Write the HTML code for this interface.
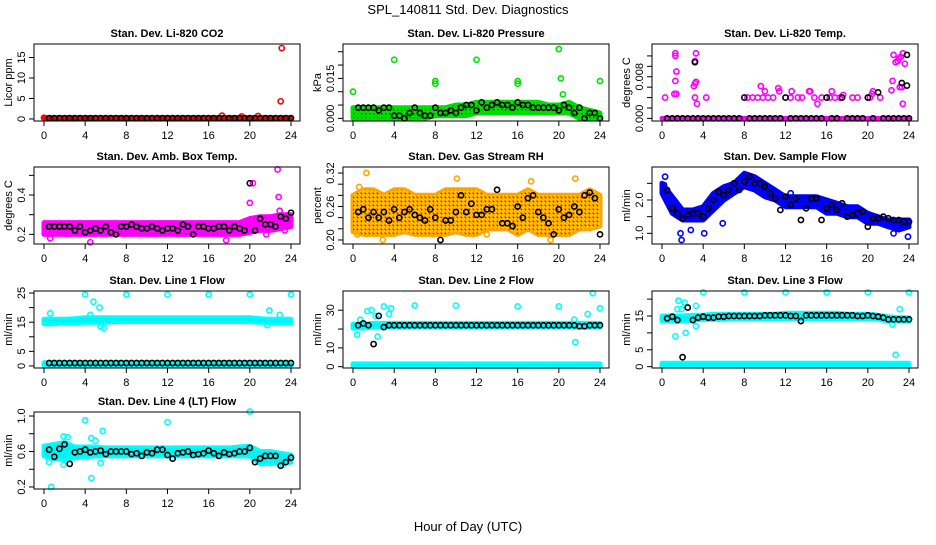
<!DOCTYPE html>
<html><head><meta charset="utf-8"><style>
html,body{margin:0;padding:0;background:#fff;}
svg text{font-family:"Liberation Sans",Arial,sans-serif;}
</style></head><body>
<svg id="chart" width="936" height="540" viewBox="0 0 936 540" xmlns="http://www.w3.org/2000/svg">
<defs>
<pattern id="pat-green" width="4" height="4" patternUnits="userSpaceOnUse"><rect width="4" height="4" fill="#00dd00"/><rect x="1" y="1" width="1.4" height="1.4" fill="#004000"/></pattern>
<pattern id="pat-magenta" width="4" height="4" patternUnits="userSpaceOnUse"><rect width="4" height="4" fill="#ff00ff"/><rect x="1" y="1" width="1.2" height="1.2" fill="#a000a0"/></pattern>
<pattern id="pat-orange" width="4" height="4" patternUnits="userSpaceOnUse"><rect width="4" height="4" fill="#ffc000"/><rect x="0" y="0" width="2" height="2" fill="#ff8000"/><rect x="1" y="1" width="1.3" height="1.3" fill="#e00000"/></pattern>
<pattern id="pat-blue" width="4" height="4" patternUnits="userSpaceOnUse"><rect width="4" height="4" fill="#0000ff"/><rect x="1" y="1" width="1.3" height="1.3" fill="#000080"/></pattern>
<pattern id="pat-red" width="4" height="4" patternUnits="userSpaceOnUse"><rect width="4" height="4" fill="#ff0000"/><rect x="1" y="1" width="1.5" height="1.5" fill="#000"/></pattern>
</defs>
<rect width="936" height="540" fill="#fff"/>
<text x="468" y="14" font-size="13" text-anchor="middle">SPL_140811  Std. Dev. Diagnostics</text>
<text x="468" y="531" font-size="13" text-anchor="middle">Hour of Day (UTC)</text>
<g id="panels"></g>
</svg>
<script>
const HOURS = [0,1,2,3,4,5,6,7,8,9,10,11,12,13,14,15,16,17,18,19,20,21,22,23,24];
const HALF = [0,0.5,1,1.5,2,2.5,3,3.5,4,4.5,5,5.5,6,6.5,7,7.5,8,8.5,9,9.5,10,10.5,11,11.5,12,12.5,13,13.5,14,14.5,15,15.5,16,16.5,17,17.5,18,18.5,19,19.5,20,20.5,21,21.5,22,22.5,23,23.5,24];
const X_TICKS = [0,4,8,12,16,20,24];

// Panel 1: Li-820 CO2
const co2Lo = [0,0,0,0,0,0,0,0,0,0,0,0,0,0,0,0,0,0,0,0,0,0,0,0,0];
const co2Hi = [0.3,0.3,0.3,0.3,0.3,0.3,0.3,0.3,0.3,0.3,0.3,0.3,0.3,0.3,0.3,0.3,0.3,0.3,0.3,0.3,0.3,0.3,0.3,0.3,0.3];
const co2Blk = [null,0.2,0.2,0.2,0.2,0.2,0.2,0.2,0.2,0.2,0.2,0.2,0.2,0.2,0.2,0.2,0.2,0.2,0.2,0.2,0.2,0.2,0.2,0.2,0.2,0.2,0.2,0.2,0.2,0.2,0.2,0.2,0.2,0.2,0.2,0.2,0.2,0.2,0.2,0.2,0.2,0.2,0.2,0.2,0.2,0.2,0.2,0.2,0.2];
const co2Out = [[0,0.3],[17.3,0.8],[23.0,4.3],[23.1,17.3],[19.2,0.6],[20.8,0.7]];

// Panel 2: Li-820 Pressure
const presLo = [0,0,0,0,0,0,0,0,0.001,0.001,0.001,0.001,0.002,0.002,0.002,0.002,0.002,0.002,0.002,0.002,0.002,0.002,0,0,0];
const presHi = [0.004,0.004,0.004,0.004,0.004,0.004,0.004,0.004,0.004,0.004,0.005,0.005,0.006,0.006,0.006,0.006,0.006,0.006,0.006,0.005,0.005,0.006,0.004,0.003,0.002];
const presBlk = [null,0.004,0.004,0.004,0.004,0.003,0.004,0.004,0.001,0.001,0.0,0.002,0.004,0.002,0.001,0.001,0.004,0.002,0.002,0.003,0.002,0.004,0.005,0.005,0.003,0.006,0.004,0.005,0.006,0.005,0.005,0.004,0.006,0.005,0.005,0.004,0.004,0.004,0.004,0.004,0.003,0.005,0.004,0.002,0.004,0.0,0.002,0.002,0.0];
const presOut = [[0,0.010],[4,0.022],[8,0.014],[8,0.013],[12,0.022],[16,0.014],[16,0.013],[20,0.026],[20.2,0.015],[20.4,0.009],[24,0.014],[0.2,0.002],[23.6,0.002]];

// Panel 3: Li-820 Temp
const tmpLo = [0,0,0,0,0,0,0,0,0,0,0,0,0,0,0,0,0,0,0,0,0,0,0,0,0];
const tmpHi = [0,0,0,0,0,0,0,0,0,0,0,0,0,0,0,0,0,0,0,0,0,0,0,0,0];
const tmpBlk = [null,0,0,0,0,0,0,0,0,0,0,0,0,0,0,0,0.004,0,0,0,0,0,0,0,0.004,0,0,0,0,0,0,0,0.004,0,0,0.004,0,0,0,0,0.004,0,0.005,0,0,0,0,0,0];
const tmpOut = [[0.3,0.004],[1.3,0.0125],[1.3,0.012],[1.4,0.009],[1.3,0.0072],[1.2,0.0047],[1.4,0.0047],[3.1,0.0062],[3.2,0.0067],[3.3,0.0070],[3.2,0.011],[3.3,0.0125],[3.2,0.004],[3.4,0.0028],[4.3,0.004],[8.3,0.004],[8.8,0.004],[9.3,0.004],[9.6,0.0062],[9.8,0.004],[10,0.0052],[10.3,0.004],[10.8,0.004],[11.3,0.0058],[11.4,0.0052],[12.5,0.004],[12.6,0.0052],[13.2,0.004],[13.6,0.004],[14.3,0.0052],[14.4,0.0052],[14.8,0.004],[15.1,0.0028],[15.5,0.004],[16.3,0.004],[16.5,0.0052],[16.8,0.004],[17.3,0.004],[17.6,0.0045],[18.5,0.004],[19,0.004],[20.2,0.004],[20.4,0.0047],[20.5,0.0052],[21.2,0.004],[22.3,0.0054],[22.4,0.0072],[22.5,0.0122],[22.7,0.0108],[22.9,0.011],[23,0.0115],[23.2,0.0118],[23.4,0.0125],[23.6,0.0105],[23.1,0.006],[23.3,0.006],[23.4,0.0028]];
const tmpBlkOut = [[3.2,0.0108],[23.3,0.0068],[23.8,0.0122],[23.8,0.0063]];

// Panel 4: Amb. Box Temp
const ambLo = [0.2,0.2,0.2,0.2,0.2,0.2,0.2,0.2,0.2,0.2,0.2,0.2,0.2,0.2,0.2,0.2,0.2,0.2,0.2,0.2,0.21,0.22,0.22,0.23,0.24];
const ambHi = [0.26,0.26,0.26,0.26,0.26,0.26,0.26,0.26,0.26,0.26,0.26,0.26,0.26,0.26,0.26,0.26,0.26,0.26,0.26,0.26,0.28,0.29,0.29,0.30,0.30];
const ambBlk = [null,0.24,0.24,0.24,0.24,0.24,0.22,0.24,0.21,0.22,0.23,0.22,0.24,0.21,0.2,0.24,0.24,0.25,0.24,0.23,0.23,0.24,0.23,0.22,0.23,0.23,0.22,0.25,0.24,0.2,0.24,0.24,0.23,0.23,0.24,0.24,0.22,0.24,0.23,0.22,0.46,0.22,0.28,0.25,0.25,0.24,0.29,0.28,0.31];
const ambOut = [[0.6,0.18],[4.5,0.16],[17.7,0.17],[20,0.36],[20.3,0.46],[22.7,0.53],[22.8,0.39],[22.9,0.32],[21.6,0.2],[23.4,0.22]];

// Panel 5: Gas Stream RH
const rhLo = [0.215,0.21,0.21,0.21,0.21,0.215,0.21,0.21,0.21,0.21,0.215,0.21,0.21,0.22,0.22,0.22,0.21,0.22,0.21,0.21,0.21,0.21,0.22,0.22,0.225];
const rhHi = [0.28,0.29,0.29,0.28,0.29,0.29,0.28,0.28,0.28,0.29,0.29,0.29,0.29,0.28,0.28,0.28,0.28,0.29,0.28,0.28,0.28,0.28,0.28,0.29,0.28];
const rhBlk = [null,0.25,0.255,0.24,0.25,0.24,0.25,0.235,0.255,0.24,0.25,0.255,0.245,0.24,0.235,0.255,0.24,0.20,0.235,0.235,0.25,0.28,0.25,0.265,0.245,0.245,0.255,0.255,0.29,0.23,0.23,0.225,0.26,0.24,0.275,0.28,0.25,0.24,0.23,0.21,0.255,0.24,0.245,0.26,0.25,0.28,0.285,0.275,0.21];
const rhOut = [[1.3,0.32],[10.1,0.31],[17.3,0.305],[21.6,0.31],[2.9,0.20],[19.2,0.20],[0.4,0.21],[13,0.21],[0.6,0.295],[7.8,0.21]];

// Panel 6: Sample Flow
const sfLo = [2.2,1.6,1.4,1.4,1.4,1.7,2.0,2.2,2.4,2.3,2.1,2.0,1.8,1.8,1.8,1.8,1.6,1.6,1.5,1.5,1.3,1.3,1.2,1.1,1.2];
const sfHi = [2.5,2.1,1.7,1.7,1.8,2.2,2.4,2.5,2.8,2.7,2.5,2.3,2.1,2.1,2.1,2.1,2.0,1.9,1.8,1.8,1.6,1.5,1.4,1.4,1.4];
const sfBlk = [null,2.3,1.75,1.6,1.45,1.55,1.6,1.6,1.5,1.75,2.0,2.25,2.15,2.3,2.5,2.3,2.55,2.7,2.5,2.5,2.4,2.2,2.05,1.7,2.1,1.85,2.05,1.4,1.75,2.05,2.05,1.4,1.75,1.85,1.7,1.9,1.5,1.55,1.6,1.65,1.2,1.45,1.45,1.5,1.45,1.4,1.4,1.35,1.35];
const sfOut = [[0.3,2.7],[1.8,1.0],[1.9,0.8],[2.8,1.1],[4.1,1.0],[5.9,1.3],[22.5,1.0],[23.9,0.9],[12.5,2.2],[0.2,2.45]];

// Panel 7: Line 1 Flow
const l1Lo = [14.5,14.5,14.8,14.8,15,15,15,15.2,15.2,15.2,15.2,15.2,15.2,15.2,15.2,15.2,15.2,15.2,15.2,15.2,15.2,15,15,14.8,14.8];
const l1Hi = [16,16,16,16.2,16.5,16.5,16.5,16.5,16.5,16.5,16.5,16.5,16.5,16.5,16.5,16.5,16.5,16.5,16.5,16.5,16.5,16.2,16,16,16];
const l1Lo2 = [0.2,0.2,0.2,0.2,0.2,0.2,0.2,0.2,0.2,0.2,0.2,0.2,0.2,0.2,0.2,0.2,0.2,0.2,0.2,0.2,0.2,0.2,0.2,0.2,0.2];
const l1Hi2 = [1.1,1.1,1.1,1.1,1.1,1.1,1.1,1.1,1.1,1.1,1.1,1.1,1.1,1.1,1.1,1.1,1.1,1.1,1.1,1.1,1.1,1.1,1.1,1.1,1.1];
const l1Blk = [null,1,1,1,1,1,1,1,1,1,1,1,1,1,1,1,1,1,1,1,1,1,1,1,1,1,1,1,1,1,1,1,1,1,1,1,1,1,1,1,1,1,1,1,1,1,1,1,1];
const l1Out = [[0.6,18],[4,24.5],[4.8,22],[5.4,20],[5.5,13.5],[5.8,13],[8,24.5],[12,24.5],[16,24.5],[20,24.5],[21.9,19],[21.7,14],[22.9,17.5],[24,24.5],[4.5,17.5],[0.1,15.5]];

// Panel 8: Line 2 Flow
const l2Lo = [20.5,20.5,21,21,21,21,21,21,21,21,21,21,21,21,21,21,21,21,21,21,21,21,21,21,21];
const l2Hi = [22.5,22.5,23,23,23,23,23,23,23,23,23,23,23,23,23,23,23,23,23,23,23,23,23,23,23];
const l2Lo2 = [0.2,0.2,0.2,0.2,0.2,0.2,0.2,0.2,0.2,0.2,0.2,0.2,0.2,0.2,0.2,0.2,0.2,0.2,0.2,0.2,0.2,0.2,0.2,0.2,0.2];
const l2Hi2 = [1.5,1.5,1.5,1.5,1.5,1.5,1.5,1.5,1.5,1.5,1.5,1.5,1.5,1.5,1.5,1.5,1.5,1.5,1.5,1.5,1.5,1.5,1.5,1.5,1.5];
const l2Blk = [null,22,23,22,12,27,21,22,22,22,22,22,22,22,22,22,22,22,22,22,22,22,22,22,22,22,22,22,22,22,22,22,22,22,22,22,22,22,22,22,22,22,22,22,21.5,21.5,22,22,22];
const l2Out = [[0.4,17],[0.7,25],[1.4,29.5],[1.8,30],[2.2,27],[2.4,16],[3,32],[3.5,28],[3.7,31],[6,32.5],[10,32.5],[16,32],[20,32],[21.5,25],[21.6,13],[22.8,28],[23.3,39],[24,31]];

// Panel 9: Line 3 Flow
const l3Lo = [13.5,13.5,13.5,13.8,14,14,14,14.2,14.2,14.2,14.2,14.2,14.2,14.2,14.2,14.2,14.2,14.2,14.2,14.2,14.2,14,13.5,13.5,13.5];
const l3Hi = [15,15,15,15.2,15.2,15.5,15.5,15.5,15.5,15.5,15.5,15.5,15.8,15.8,15.8,15.8,15.8,15.8,15.5,15.5,15.5,15.2,14.8,14.5,14.5];
const l3Lo2 = [0.2,0.2,0.2,0.2,0.2,0.2,0.2,0.2,0.2,0.2,0.2,0.2,0.2,0.2,0.2,0.2,0.2,0.2,0.2,0.2,0.2,0.2,0.2,0.2,0.2];
const l3Hi2 = [1,1,1,1,1,1,1,1,1,1,1,1,1,1,1,1,1,1,1,1,1,1,1,1,1];
const l3Blk = [null,14.3,14.8,13.8,2.8,17.5,13.8,14.5,14.8,14.5,14.5,14.8,14.8,15,15,15,15,15,15,15,15.2,15.2,15.2,15.2,15.2,15,15,13.5,15.2,15.2,15.2,15.2,15.2,15.2,15.2,15.2,15.2,15.2,15,15,15.2,15,14.8,14.5,14,14,14,14,14];
const l3Out = [[1.3,9],[1.5,17],[1.6,19.5],[2.2,19],[2.3,10],[1.9,17],[3.3,12],[3.3,18],[4,22],[8,22],[12,22],[16,22],[20,22],[24,22],[22.7,3.5],[23.1,17],[22.4,12.5]];

// Panel 10: Line 4 (LT) Flow
const l4Lo = [0.55,0.52,0.52,0.53,0.54,0.55,0.55,0.55,0.55,0.55,0.55,0.55,0.55,0.55,0.55,0.55,0.55,0.55,0.55,0.55,0.55,0.46,0.47,0.47,0.48];
const l4Hi = [0.66,0.68,0.7,0.65,0.65,0.65,0.64,0.64,0.64,0.64,0.64,0.64,0.64,0.64,0.64,0.64,0.64,0.64,0.64,0.65,0.66,0.6,0.6,0.58,0.56];
const l4Blk = [null,0.62,0.54,0.63,0.68,0.46,0.59,0.6,0.62,0.59,0.6,0.61,0.57,0.6,0.6,0.6,0.6,0.57,0.58,0.55,0.59,0.58,0.62,0.62,0.56,0.52,0.58,0.59,0.6,0.56,0.57,0.58,0.61,0.58,0.55,0.59,0.57,0.58,0.6,0.6,0.64,0.48,0.52,0.55,0.55,0.55,0.44,0.48,0.53];
const l4Out = [[0.5,0.48],[0.7,0.2],[1.9,0.45],[1.9,0.77],[2.3,0.76],[2.5,0.52],[4,0.95],[4.6,0.75],[4.6,0.3],[5,0.72],[5.5,0.47],[5.7,0.83],[12,0.93],[20,1.05],[22,0.47],[23.2,0.45]];

const PANELS = [
 {name:'li820-co2',title:'Stan. Dev. Li-820 CO2',ylab:'Licor ppm',col:0,row:0,ylim:[-0.5,18.3],ticks:[0,5,10,15],labels:['0','5','10','15'],color:'#ff0000',fill:'url(#pat-red)',edge:'#ff0000',bands:[[co2Lo,co2Hi]],blk:co2Blk,out:co2Out,blkOut:[]},
 {name:'li820-pressure',title:'Stan. Dev. Li-820 Pressure',ylab:'kPa',col:1,row:0,ylim:[-0.001,0.0279],ticks:[0,0.005,0.01,0.015,0.02,0.025],labels:['0.000','','','0.015','',''],color:'#00e000',fill:'url(#pat-green)',edge:'#00dd00',bands:[[presLo,presHi]],blk:presBlk,out:presOut,blkOut:[]},
 {name:'li820-temp',title:'Stan. Dev. Li-820 Temp.',ylab:'degrees C',col:2,row:0,ylim:[-0.0005,0.01429],ticks:[0,0.002,0.004,0.006,0.008,0.01,0.012],labels:['0.000','','','','0.008','',''],color:'#ff00ff',fill:'url(#pat-magenta)',edge:'#ff00ff',bands:[[tmpLo,tmpHi]],blk:tmpBlk,out:tmpOut,blkOut:tmpBlkOut},
 {name:'amb-box-temp',title:'Stan. Dev. Amb. Box Temp.',ylab:'degrees C',col:0,row:1,ylim:[0.151,0.5425],ticks:[0.2,0.3,0.4,0.5],labels:['0.2','','0.4',''],color:'#ff00ff',fill:'url(#pat-magenta)',edge:'#ff00ff',bands:[[ambLo,ambHi]],blk:ambBlk,out:ambOut,blkOut:[]},
 {name:'gas-stream-rh',title:'Stan. Dev. Gas Stream RH',ylab:'percent',col:1,row:1,ylim:[0.1928,0.3308],ticks:[0.2,0.22,0.24,0.26,0.28,0.3,0.32],labels:['0.20','','','0.26','','','0.32'],color:'#ffa500',fill:'url(#pat-orange)',edge:'#ffa500',bands:[[rhLo,rhHi]],blk:rhBlk,out:rhOut,blkOut:[]},
 {name:'sample-flow',title:'Stan. Dev. Sample Flow',ylab:'ml/min',col:2,row:1,ylim:[0.68,2.99],ticks:[1,1.5,2,2.5],labels:['1.0','','2.0',''],color:'#0000ff',fill:'url(#pat-blue)',edge:'#0000ff',bands:[[sfLo,sfHi]],blk:sfBlk,out:sfOut,blkOut:[]},
 {name:'line1-flow',title:'Stan. Dev. Line 1 Flow',ylab:'ml/min',col:0,row:2,ylim:[-0.7,25.7],ticks:[0,5,10,15,20,25],labels:['0','5','','15','','25'],color:'#00ffff',fill:'#00f4f4',edge:'#00ffff',bands:[[l1Lo,l1Hi],[l1Lo2,l1Hi2]],blk:l1Blk,out:l1Out,blkOut:[]},
 {name:'line2-flow',title:'Stan. Dev. Line 2 Flow',ylab:'ml/min',col:1,row:2,ylim:[-0.7,40.2],ticks:[0,10,20,30],labels:['0','10','','30'],color:'#00ffff',fill:'#00f4f4',edge:'#00ffff',bands:[[l2Lo,l2Hi],[l2Lo2,l2Hi2]],blk:l2Blk,out:l2Out,blkOut:[]},
 {name:'line3-flow',title:'Stan. Dev. Line 3 Flow',ylab:'ml/min',col:2,row:2,ylim:[-0.4,22.4],ticks:[0,5,10,15,20],labels:['0','5','','15',''],color:'#00ffff',fill:'#00f4f4',edge:'#00ffff',bands:[[l3Lo,l3Hi],[l3Lo2,l3Hi2]],blk:l3Blk,out:l3Out,blkOut:[]},
 {name:'line4-lt-flow',title:'Stan. Dev. Line 4 (LT) Flow',ylab:'ml/min',col:0,row:3,ylim:[0.177,1.045],ticks:[0.2,0.4,0.6,0.8,1.0],labels:['0.2','','0.6','','1.0'],color:'#00ffff',fill:'#00f4f4',edge:'#00ffff',bands:[[l4Lo,l4Hi]],blk:l4Blk,out:l4Out,blkOut:[]}
];

const COL_L=[34,343,652], ROW_T=[44,167,291,412], BW=266, BH=77;
const NS='http://www.w3.org/2000/svg';
const root=document.getElementById('panels');
function mk(tag,attrs,parent){const e=document.createElementNS(NS,tag);for(const k in attrs)e.setAttribute(k,attrs[k]);parent.appendChild(e);return e;}

PANELS.forEach(p=>{
  const L=COL_L[p.col], T=ROW_T[p.row], B=T+BH, R=L+BW;
  const xs=h=>L+10+h*(247/24);
  const ys=v=>B-(v-p.ylim[0])/(p.ylim[1]-p.ylim[0])*BH;
  const g=mk('g',{},root);
  
  
  const t=mk('text',{x:(L+R)/2,y:T-7,'font-size':11,'font-weight':'bold','text-anchor':'middle'},g);
  t.textContent=p.title;
  
  
  const yl=mk('text',{x:0,y:0,'font-size':11,'text-anchor':'middle',transform:`translate(${L-22},${(T+B)/2}) rotate(-90)`},g);
  yl.textContent=p.ylab;
  
  
  const marks=mk('g',{},g);
  
  
  p.bands.forEach(b=>{
    const lo=b[0], hi=b[1];
    let d='';
    HOURS.forEach((h,i)=>{d+=(i?'L':'M')+xs(h).toFixed(1)+','+ys(hi[i]).toFixed(1);});
    for(let i=HOURS.length-1;i>=0;i--) d+='L'+xs(HOURS[i]).toFixed(1)+','+ys(lo[i]).toFixed(1);
    d+='Z';
    const edge=mk('path',{d:d,fill:p.edge,stroke:p.edge,'stroke-width':5,'stroke-linejoin':'round'},marks);
    
    
    const band=mk('path',{d:d,fill:p.fill,stroke:'none'},marks);
    
    
  });
  p.out.forEach(o=>{
    const c=mk('circle',{cx:xs(o[0]),cy:ys(o[1]),r:2.6,fill:'none',stroke:p.color,'stroke-width':1.6},marks);
    
    
  });
  p.blk.forEach((v,i)=>{
    if(v===null) return;
    const c=mk('circle',{cx:xs(HALF[i]),cy:ys(v),r:2.6,fill:'none',stroke:'#000','stroke-width':1.6},marks);
    
    
  });
  p.blkOut.forEach(o=>{
    const c=mk('circle',{cx:xs(o[0]),cy:ys(o[1]),r:2.6,fill:'none',stroke:'#000','stroke-width':1.6},marks);
    
    
  });
  const box=mk('rect',{x:L,y:T,width:BW,height:BH,fill:'none',stroke:'#000','stroke-width':1},g);
  
  
  const xa=mk('g',{},g);
  
  
  X_TICKS.forEach(h=>{
    mk('line',{x1:xs(h),x2:xs(h),y1:B,y2:B+5,stroke:'#000'},xa);
    const tl=mk('text',{x:xs(h),y:B+18,'font-size':11,'text-anchor':'middle'},xa);
    tl.textContent=String(h);
  });
  const ya=mk('g',{},g);
  
  
  p.ticks.forEach((v,i)=>{
    mk('line',{x1:L-5,x2:L,y1:ys(v),y2:ys(v),stroke:'#000'},ya);
    if(p.labels[i]){
      const tl=mk('text',{x:0,y:0,'font-size':11,'text-anchor':'middle',transform:`translate(${L-9},${ys(v)}) rotate(-90)`},ya);
      tl.textContent=p.labels[i];
    }
  });
});
</script>
</body></html>
